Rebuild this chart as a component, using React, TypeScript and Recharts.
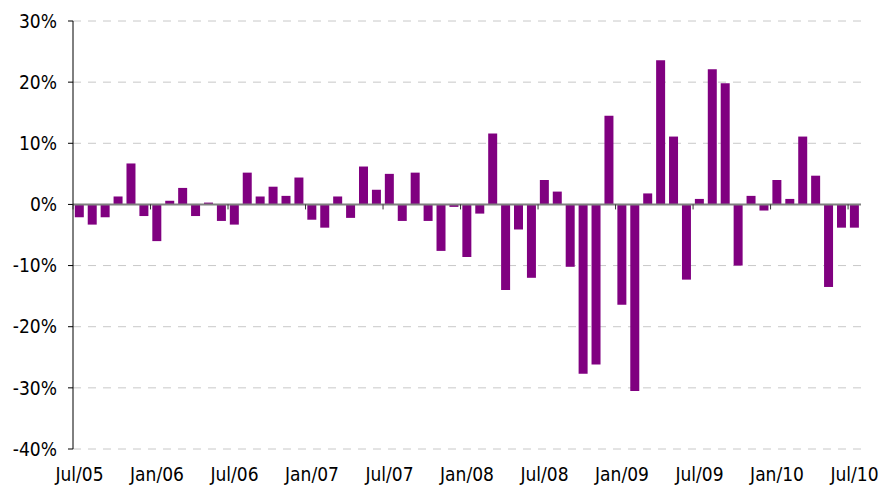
import { BarChart, Bar, XAxis, YAxis, CartesianGrid, ReferenceLine } from "recharts";

const months = [
  "Jul/05", "Aug/05", "Sep/05", "Oct/05", "Nov/05", "Dec/05",
  "Jan/06", "Feb/06", "Mar/06", "Apr/06", "May/06", "Jun/06",
  "Jul/06", "Aug/06", "Sep/06", "Oct/06", "Nov/06", "Dec/06",
  "Jan/07", "Feb/07", "Mar/07", "Apr/07", "May/07", "Jun/07",
  "Jul/07", "Aug/07", "Sep/07", "Oct/07", "Nov/07", "Dec/07",
  "Jan/08", "Feb/08", "Mar/08", "Apr/08", "May/08", "Jun/08",
  "Jul/08", "Aug/08", "Sep/08", "Oct/08", "Nov/08", "Dec/08",
  "Jan/09", "Feb/09", "Mar/09", "Apr/09", "May/09", "Jun/09",
  "Jul/09", "Aug/09", "Sep/09", "Oct/09", "Nov/09", "Dec/09",
  "Jan/10", "Feb/10", "Mar/10", "Apr/10", "May/10", "Jun/10",
  "Jul/10",
];

// monthly return, %
const returns = [
  -2.1, -3.3, -2.1, 1.3, 6.7, -1.9,
  -6.0, 0.6, 2.7, -1.9, 0.3, -2.7,
  -3.3, 5.2, 1.3, 2.9, 1.4, 4.4,
  -2.5, -3.8, 1.3, -2.2, 6.2, 2.4,
  5.0, -2.7, 5.2, -2.7, -7.6, -0.4,
  -8.6, -1.5, 11.6, -14.0, -4.1, -12.0,
  4.0, 2.1, -10.2, -27.7, -26.2, 14.5,
  -16.4, -30.5, 1.8, 23.6, 11.1, -12.3,
  0.9, 22.1, 19.8, -10.0, 1.4, -1.0,
  4.0, 0.9, 11.1, 4.7, -13.5, -3.8,
  -3.8,
];

const yTicks = [-40, -30, -20, -10, 0, 10, 20, 30];

const data = months.map((m, i) => ({ m, v: returns[i] }));

const W = 885;
const H = 489;
const TOP = 21;
const RIGHT = 24;
const BOTTOM = 40;
const Y_W = 73;
const FONT = "'DejaVu Sans Condensed', 'DejaVu Sans', Verdana, sans-serif";

const plotH = H - TOP - BOTTOM;
const zeroY = TOP + (plotH * 30) / 70;
const band = (W - Y_W - RIGHT) / months.length;

function MonthTick(props: any) {
  const { x, y, payload } = props;
  return (
    <g>
      <line x1={x - band / 2} x2={x - band / 2} y1={zeroY} y2={zeroY + 5} stroke="#333" />
      <text x={x} y={y} dy={32} textAnchor="middle" fontFamily={FONT} fontSize={19} fill="#000">
        {payload.value}
      </text>
    </g>
  );
}

export default function App() {
  return (
    <div style={{ position: "absolute", left: 0, top: 0, width: W, height: H, background: "#fff" }}>
      <BarChart
        width={W}
        height={H}
        data={data}
        margin={{ top: TOP, right: RIGHT, bottom: 0, left: 0 }}
        barCategoryGap="14%"
      >
        <CartesianGrid vertical={false} stroke="#c8c8c8" strokeDasharray="8 7" />
        <XAxis
          dataKey="m"
          interval={5}
          height={BOTTOM}
          axisLine={false}
          tickLine={false}
          tickSize={0}
          tickMargin={0}
          tick={<MonthTick />}
        />
        <YAxis
          width={Y_W}
          domain={[-40, 30]}
          ticks={yTicks}
          tickFormatter={(v: number) => `${v}%`}
          axisLine={{ stroke: "#000" }}
          tickLine={{ stroke: "#000" }}
          tickSize={5}
          tickMargin={11}
          tick={{ fontFamily: FONT, fontSize: 19, fill: "#000" }}
        />
        <Bar dataKey="v" fill="#800080" isAnimationActive={false} />
        <ReferenceLine y={0} stroke="#808080" strokeWidth={2} />
      </BarChart>
    </div>
  );
}
